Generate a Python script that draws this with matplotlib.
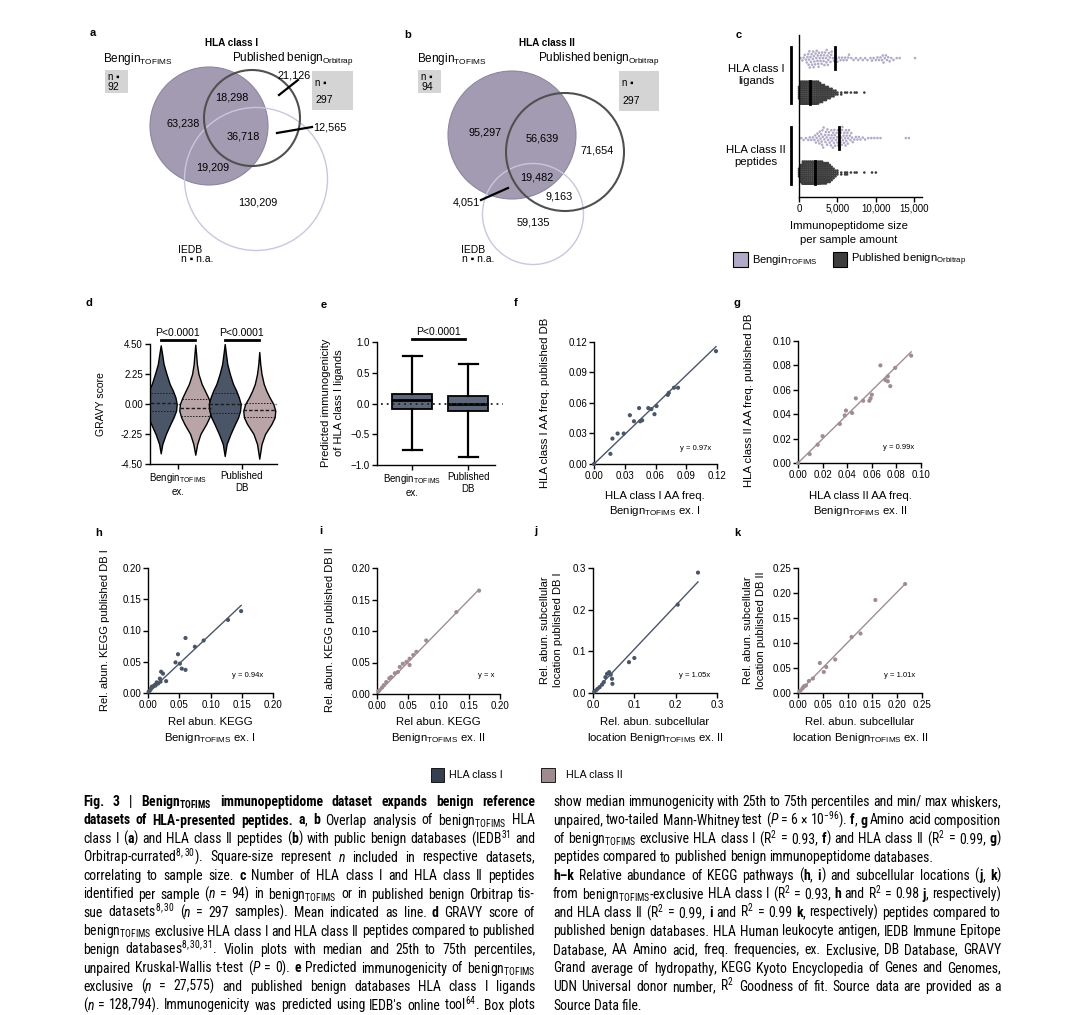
import numpy as np
import matplotlib
matplotlib.use('Agg')
import matplotlib.pyplot as plt
from matplotlib.patches import Circle, Rectangle
from matplotlib.transforms import blended_transform_factory
from matplotlib import font_manager

plt.rcParams['font.family'] = ['Liberation Sans', 'DejaVu Sans']
plt.rcParams['mathtext.fontset'] = 'custom'
plt.rcParams['mathtext.rm'] = 'Liberation Sans'
plt.rcParams['mathtext.it'] = 'Liberation Sans:italic'
plt.rcParams['mathtext.bf'] = 'Liberation Sans:bold'

SUB = r'$_{\mathregular{TOFIMS}}$'
ORB = r'$_{\mathregular{Orbitrap}}$'

########################################
# Data
########################################

# a, b - Venn counts (Bengin only, Bengin&Pub, all three, Bengin&IEDB, IEDB only, Pub only, Pub&IEDB)
venn_a_counts = [63238, 18298, 36718, 19209, 130209, 21126, 12565]
venn_b_counts = [95297, 56639, 19482, 4051, 59135, 71654, 9163]
n_bengin = [92, 94]
n_published = 297

# c - immunopeptidome size per sample
c_bengin_I = [200, 450, 600, 750, 900, 1000, 1100, 1200, 1250, 1300, 1350, 1400, 1500, 1550,
              1650, 1700, 1800, 1850, 1900, 1950, 2000, 2100, 2150, 2250, 2300, 2400, 2450,
              2500, 2550, 2600, 2700, 2800, 2850, 2950, 3000, 3100, 3200, 3250, 3300, 3400,
              3500, 3550, 3600, 3700, 3750, 3800, 3900, 4000, 4100, 4200, 4250, 4400, 4550,
              4700, 4850, 5000, 5200, 5400, 5600, 5800, 6000, 6200, 6400, 6500, 6800, 7100,
              7400, 7700, 8000, 8300, 8600, 8900, 9300, 9500, 9700, 10000, 10200, 10400,
              10600, 10800, 10900, 11000, 11150, 11300, 11450, 11600, 11800, 12000, 12300,
              12700, 13100, 15100]
c_bengin_II = [300, 600, 900, 1200, 1400, 1600, 1800, 2000, 2100, 2200, 2300, 2400, 2500,
               2600, 2700, 2800, 2900, 3000, 3050, 3100, 3200, 3300, 3400, 3450, 3500, 3600,
               3700, 3800, 3850, 3900, 4000, 4100, 4200, 4250, 4300, 4400, 4500, 4600, 4650,
               4700, 4800, 4900, 5000, 5050, 5100, 5200, 5300, 5400, 5450, 5500, 5600, 5700,
               5800, 5850, 5900, 6000, 6100, 6200, 6300, 6400, 6500, 6600, 6700, 6800, 6900,
               7000, 7200, 7400, 7600, 7800, 8000, 8300, 8600, 9000, 9400, 9800, 10200,
               10600, 13900, 14300, 3150, 3650, 4450, 4950, 5250, 5650, 6050, 6350, 2650,
               2950, 4150, 4550, 5550, 6150]
c_pub_bins = [0, 250, 500, 750, 1000, 1250, 1500, 1750, 2000, 2250, 2500, 2750, 3000, 3250,
              3500, 3750, 4000, 4250, 4500, 4750, 5000, 5500, 6000, 6250, 6750, 7250, 7500,
              8500, 9500, 10000]
c_pub_I_counts = [7, 14, 24, 29, 30, 29, 26, 20, 17, 15, 13, 11, 10, 9,
                  8, 7, 6, 5, 4, 3, 2, 2, 1, 1, 1, 1, 1, 1, 0, 0]
c_pub_II_counts = [5, 10, 17, 20, 22, 22, 22, 22, 21, 16, 15, 14, 13, 12,
                   12, 11, 10, 8, 6, 4, 3, 2, 2, 2, 1, 1, 1, 1, 1, 1]
c_means = [4650, 1420, 5200, 2050]
c_ticks = [0, 5000, 10000, 15000]
c_ticklabels = ['0', '5,000', '10,000', '15,000']

# d - GRAVY score violins (profile height -> half width)
d_dark1_y = [-3.7, -3.0, -2.25, -1.5, -1.0, -0.5, 0.0, 0.5, 1.0, 1.5, 2.25, 3.0, 3.8, 4.4]
d_dark1_w = [0.0, 0.025, 0.08, 0.15, 0.2, 0.24, 0.25, 0.23, 0.19, 0.14, 0.09, 0.045, 0.02, 0.0]
d_pink1_y = [-3.8, -3.0, -2.25, -1.5, -1.0, -0.5, 0.0, 0.5, 1.0, 1.5, 2.25, 3.0, 3.8, 4.45]
d_pink1_w = [0.0, 0.03, 0.08, 0.17, 0.22, 0.25, 0.24, 0.2, 0.15, 0.1, 0.05, 0.025, 0.012, 0.0]
d_dark2_y = [-3.9, -3.0, -2.25, -1.5, -1.0, -0.5, 0.0, 0.5, 1.0, 1.5, 2.25, 3.0, 3.8, 4.5]
d_dark2_w = [0.0, 0.03, 0.09, 0.16, 0.21, 0.24, 0.25, 0.22, 0.18, 0.13, 0.08, 0.04, 0.018, 0.0]
d_pink2_y = [-4.1, -3.0, -2.25, -1.5, -1.0, -0.5, 0.0, 0.5, 1.0, 1.5, 2.25, 3.0, 3.9]
d_pink2_w = [0.0, 0.035, 0.09, 0.19, 0.24, 0.25, 0.22, 0.16, 0.11, 0.07, 0.035, 0.015, 0.0]
d_quartiles = [(-0.55, 0.1, 0.85), (-0.9, -0.3, 0.35), (-0.7, 0.0, 0.8), (-1.0, -0.45, 0.1)]
d_ticks = [-4.5, -2.25, 0, 2.25, 4.5]
d_ticklabels = ['-4.50', '-2.25', '0.00', '2.25', '4.50']

# e - predicted immunogenicity box stats
e_stats = [dict(med=0.05, q1=-0.09, q3=0.15, whislo=-0.75, whishi=0.78, fliers=[]),
           dict(med=0.0, q1=-0.12, q3=0.13, whislo=-0.87, whishi=0.64, fliers=[])]

# f - HLA class I AA freq
f_x = [0.0, 0.016, 0.018, 0.023, 0.029, 0.035, 0.039, 0.044, 0.045, 0.047, 0.053, 0.056,
       0.059, 0.061, 0.072, 0.073, 0.078, 0.082, 0.119]
f_y = [0.0, 0.010, 0.025, 0.030, 0.030, 0.048, 0.042, 0.055, 0.042, 0.043, 0.055, 0.054,
       0.049, 0.057, 0.068, 0.070, 0.075, 0.075, 0.111]
f_slope = 0.97

# g - HLA class II AA freq
g_x = [0.0, 0.0095, 0.016, 0.020, 0.034, 0.038, 0.039, 0.044, 0.047, 0.053, 0.058, 0.059,
       0.060, 0.067, 0.071, 0.073, 0.073, 0.075, 0.079, 0.092]
g_y = [0.0, 0.0073, 0.015, 0.022, 0.032, 0.039, 0.043, 0.041, 0.053, 0.051, 0.051, 0.053,
       0.056, 0.080, 0.068, 0.071, 0.067, 0.063, 0.078, 0.088]
g_slope = 0.99

# h - KEGG class I
h_x = [0.128, 0.149, 0.089, 0.075, 0.060, 0.048, 0.044, 0.051, 0.054, 0.060, 0.021, 0.024,
       0.029, 0.019, 0.020, 0.016, 0.012, 0.009, 0.007, 0.005, 0.003, 0.001, 0.014, 0.011,
       0.006]
h_y = [0.117, 0.131, 0.084, 0.074, 0.088, 0.062, 0.049, 0.047, 0.039, 0.037, 0.034, 0.031,
       0.019, 0.023, 0.018, 0.015, 0.012, 0.011, 0.010, 0.007, 0.004, 0.002, 0.017, 0.013,
       0.010]
h_slope = 0.94

# i - KEGG class II
i_x = [0.166, 0.129, 0.080, 0.064, 0.059, 0.053, 0.048, 0.042, 0.053, 0.037, 0.034, 0.029,
       0.023, 0.020, 0.015, 0.011, 0.008, 0.004, 0.002]
i_y = [0.164, 0.130, 0.085, 0.067, 0.062, 0.046, 0.051, 0.048, 0.056, 0.043, 0.035, 0.033,
       0.027, 0.025, 0.019, 0.014, 0.010, 0.006, 0.004]
i_slope = 1.0

# j - subcellular class I
j_x = [0.254, 0.205, 0.100, 0.087, 0.039, 0.043, 0.046, 0.047, 0.030, 0.026, 0.022, 0.016,
       0.011, 0.007, 0.003, 0.034]
j_y = [0.289, 0.212, 0.084, 0.074, 0.050, 0.044, 0.034, 0.022, 0.038, 0.026, 0.020, 0.014,
       0.010, 0.006, 0.003, 0.046]
j_slope = 1.05

# k - subcellular class II
k_x = [0.216, 0.156, 0.126, 0.108, 0.075, 0.057, 0.052, 0.044, 0.030, 0.022, 0.016, 0.011,
       0.009, 0.005, 0.003, 0.013]
k_y = [0.218, 0.186, 0.119, 0.112, 0.067, 0.052, 0.042, 0.060, 0.029, 0.024, 0.015, 0.012,
       0.009, 0.005, 0.003, 0.014]
k_slope = 1.01

# colours
C_I = '#4b5568'
C_II = '#a08d93'
C_I_LEG = '#363f50'
C_II_LEG = '#9f8a8f'
C_BENGIN = '#a29bb2'
C_BENGIN_PT = '#b2abc8'
C_PUB = '#3d3d3d'

########################################
# Figure + helpers
########################################
W, H = 1077, 1015
fig = plt.figure(figsize=(W / 100, H / 100), dpi=100)

cv = fig.add_axes([0, 0, 1, 1])
cv.set_xlim(0, W)
cv.set_ylim(H, 0)
cv.axis('off')


def px_axes(x0, y0, x1, y1):
    return fig.add_axes([x0 / W, 1 - y1 / H, (x1 - x0) / W, (y1 - y0) / H])


def style(ax):
    for s in ['top', 'right']:
        ax.spines[s].set_visible(False)
    for s in ['left', 'bottom']:
        ax.spines[s].set_linewidth(1.0)
    ax.tick_params(direction='out', length=3.5, width=1.0, labelsize=7, pad=1.5)
    ax.patch.set_visible(False)


def letter(x, y, s):
    cv.text(x, y, s, fontsize=8, fontweight='bold', ha='left', va='center')


def beeswarm(xpx, d, maxoff):
    xpx = np.asarray(xpx, float)
    ys = np.zeros(len(xpx))
    placed = []
    for i in np.argsort(xpx, kind='stable'):
        x = xpx[i]
        near = [(px, py) for px, py in placed if abs(px - x) < d]
        cands = [0.0]
        for px, py in near:
            dy = np.sqrt(d * d - (px - x) ** 2)
            cands += [py + dy, py - dy]
        cands.sort(key=abs)
        best = cands[-1]
        for c in cands:
            if all((px - x) ** 2 + (py - c) ** 2 >= d * d - 1e-6 for px, py in near):
                best = c
                break
        best = max(-maxoff, min(maxoff, best))
        ys[i] = best
        placed.append((x, best))
    return ys


########################################
# a, b - Venn diagrams
########################################
def venn(title, tx, lab_b, lab_p, circles, counts, pos, box_b, box_p, nb, pointers):
    cb, cp, ci = circles
    cv.add_patch(Circle(cb[:2], cb[2], facecolor=C_BENGIN, edgecolor='#8d86a0', lw=0.8, zorder=1))
    cv.add_patch(Circle(ci[:2], ci[2], facecolor='none', edgecolor='#c9c7de', lw=1.0, zorder=2))
    cv.add_patch(Circle(cp[:2], cp[2], facecolor='none', edgecolor='#505050', lw=1.5, zorder=3))
    cv.text(tx, 43, title, fontsize=7.2, fontweight='bold', ha='center', va='center')
    cv.text(lab_b[0], lab_b[1], 'Bengin' + SUB, fontsize=8.5, ha='left', va='center')
    cv.text(lab_p[0], lab_p[1], 'Published benign' + ORB, fontsize=8.5, ha='left', va='center')
    for (x0, y0, x1, y1), n in [(box_b, nb), (box_p, n_published)]:
        cv.add_patch(Rectangle((x0, y0), x1 - x0, y1 - y0, facecolor='#d4d4d4', edgecolor='none', zorder=1))
        cv.text(x0 + 3, y0 + (y1 - y0) * 0.3, 'n \u25aa', fontsize=7, ha='left', va='center', zorder=4)
        cv.text(x0 + 3, y0 + (y1 - y0) * 0.74, str(n), fontsize=7.5, ha='left', va='center', zorder=4)
    for v, (x, y) in zip(counts, pos):
        cv.text(x, y, f'{v:,}', fontsize=7.8, ha='center', va='center', zorder=5)
    for (x0, y0), (x1, y1) in pointers:
        cv.plot([x0, x1], [y0, y1], color='k', lw=1.6, zorder=5)


letter(90, 33, 'a')
venn('HLA class I', 232, (103, 59), (232, 58),
     [(209, 126, 59), (252, 118, 48), (256, 179, 71.5)],
     venn_a_counts,
     [(183, 123), (232, 97), (243, 136), (213, 167), (258, 202), (294, 75), (330, 127)],
     (105, 70, 128, 93), (312, 71, 353, 110), n_bengin[0],
     [((298, 80), (279, 95)), ((312, 127), (277, 133))])
cv.text(190, 250, 'IEDB', fontsize=7.5, ha='center', va='center')
cv.text(197, 259, 'n \u25aa n.a.', fontsize=7.5, ha='center', va='center')

letter(404, 35, 'b')
venn('HLA class II', 547, (417, 59), (538, 58),
     [(512, 135, 64), (565, 152, 59), (533, 214, 50.5)],
     venn_b_counts,
     [(485, 132), (542, 138), (537, 177), (466, 202), (533, 222), (597, 150), (559, 196)],
     (418, 70, 441, 93), (619, 71, 659, 111), n_bengin[1],
     [((481, 200), (508, 188))])
cv.text(473, 250, 'IEDB', fontsize=7.5, ha='center', va='center')
cv.text(478, 259, 'n \u25aa n.a.', fontsize=7.5, ha='center', va='center')

########################################
# c - immunopeptidome size
########################################
letter(736, 35, 'c')
axc = px_axes(799, 35, 922, 197)
style(axc)
axc.set_xlim(0, 16000)
axc.set_ylim(4.03, -0.67)
axc.set_yticks([])
axc.set_xticks(c_ticks)
axc.set_xticklabels(c_ticklabels)
axc.tick_params(axis='x', labelsize=7)
rows = [0, 1, 2.32, 3.32]
px_per_x = 123 / 16000
px_per_y = 162 / 4.7
c_pub_I = np.repeat(c_pub_bins, c_pub_I_counts)
c_pub_II = np.repeat(c_pub_bins, c_pub_II_counts)
series = [(c_bengin_I, C_BENGIN_PT, 3.0, 12), (c_pub_I, C_PUB, 1.9, 11),
          (c_bengin_II, C_BENGIN_PT, 3.0, 12), (c_pub_II, C_PUB, 1.9, 11)]
for row, (vals, col, d, mo), m in zip(rows, series, c_means):
    vals = np.asarray(vals, float)
    off = beeswarm(vals * px_per_x, d, mo) / px_per_y
    axc.scatter(vals, row + off, s=3.5, color=col, edgecolors='none', zorder=2, clip_on=False)
    axc.plot([m, m], [row - 0.33, row + 0.33], color='k', lw=2, zorder=3)
tr = blended_transform_factory(axc.transAxes, axc.transData)
for y0, y1 in [(-0.32, 1.30), (2.0, 3.65)]:
    axc.plot([-0.065, -0.065], [y0, y1], color='k', lw=2, transform=tr, clip_on=False)
cv.text(756, 75, 'HLA class I\nligands', fontsize=8.2, ha='center', va='center', linespacing=1.3)
cv.text(756, 156, 'HLA class II\npeptides', fontsize=8.2, ha='center', va='center', linespacing=1.3)
cv.text(849, 226, 'Immunopeptidome size', fontsize=8.2, ha='center', va='center')
cv.text(849, 240, 'per sample amount', fontsize=8.2, ha='center', va='center')
cv.add_patch(Rectangle((733, 252), 15, 15, facecolor=C_BENGIN_PT, edgecolor='k', lw=0.8))
cv.text(752, 260, 'Bengin' + SUB, fontsize=8, ha='left', va='center')
cv.add_patch(Rectangle((833, 252), 14, 15, facecolor=C_PUB, edgecolor='k', lw=0.8))
cv.text(851, 260, 'Published benign' + ORB, fontsize=8, ha='left', va='center')

########################################
# d - GRAVY violins
########################################
letter(86, 303, 'd')
axd = px_axes(150, 344, 277, 464)
style(axd)
axd.set_xlim(0.5625, 2.547)
axd.set_ylim(-4.5, 4.5)
axd.set_yticks(d_ticks)
axd.set_yticklabels(d_ticklabels)
axd.set_xticks([1, 2])
axd.set_xticklabels(['Bengin' + SUB + '\nex.', 'Published\nDB'], fontsize=7, linespacing=1.2)
axd.axhline(0, color='#555555', lw=0.9, ls=(0, (1, 1.5)), zorder=0)
violins = [(0.73, d_dark1_y, d_dark1_w, C_I), (1.27, d_pink1_y, d_pink1_w, '#b9a4a8'),
           (1.73, d_dark2_y, d_dark2_w, C_I), (2.27, d_pink2_y, d_pink2_w, '#b9a4a8')]
for (xc, vy, vw, col), qs in zip(violins, d_quartiles):
    vw = np.asarray(vw)
    axd.fill_betweenx(vy, xc - vw, xc + vw, facecolor=col, edgecolor='k', lw=1.0, zorder=2)
    for k, q in enumerate(qs):
        hw = np.interp(q, vy, vw)
        axd.plot([xc - hw, xc + hw], [q, q], color='#1a1a1a', lw=1.0 if k == 1 else 0.7,
                 ls=(0, (2.5, 1.5)) if k == 1 else (0, (1.5, 1.5)), zorder=3)
for xa, xb in [(0.73, 1.27), (1.73, 2.27)]:
    axd.plot([xa, xb], [4.8, 4.8], color='k', lw=2, clip_on=False)
    axd.text((xa + xb) / 2, 5.35, 'P<0.0001', fontsize=7.5, ha='center', va='center')
cv.text(101, 404, 'GRAVY score', fontsize=7.5, rotation=90, ha='center', va='center')

########################################
# e - predicted immunogenicity box plots
########################################
letter(321, 305, 'e')
axe = px_axes(377, 342, 495, 465)
style(axe)
axe.bxp(e_stats, positions=[1, 2], widths=0.7, patch_artist=True, showfliers=False,
        capwidths=0.34, manage_ticks=False,
        boxprops=dict(facecolor='#5e6779', edgecolor='k', lw=1.3),
        whiskerprops=dict(color='k', lw=1.6), capprops=dict(color='k', lw=1.6),
        medianprops=dict(color='k', lw=2))
axe.set_xlim(0.375, 2.48)
axe.set_ylim(-1.0, 1.0)
axe.set_yticks([-1.0, -0.5, 0.0, 0.5, 1.0])
axe.set_xticks([1, 2])
axe.set_xticklabels(['Bengin' + SUB + '\nex.', 'Published\nDB'], fontsize=7, linespacing=1.2)
axe.plot([0.45, 2.62], [0, 0], color='#222222', lw=1.3, ls=(0, (1, 2.2)), zorder=4, clip_on=False)
axe.plot([1, 1.95], [1.05, 1.05], color='k', lw=2, clip_on=False)
axe.text(1.47, 1.16, 'P<0.0001', fontsize=7.5, ha='center', va='center')
cv.text(326, 403, 'Predicted immunogenicity', fontsize=8, rotation=90, ha='center', va='center')
cv.text(339, 403, 'of HLA class I ligands', fontsize=8, rotation=90, ha='center', va='center')

########################################
# f - k scatter panels
########################################
def scatter_panel(rect, xs, ys, slope, col, lim, ticks, ticklabels, eq, eq_pos):
    ax = px_axes(*rect)
    style(ax)
    ax.scatter(xs, ys, s=9, color=col, edgecolors='none', zorder=3, clip_on=False)
    xe = max(xs)
    ax.plot([0, xe], [0, slope * xe], color=col, lw=1.0, zorder=2)
    ax.set_xlim(0, lim)
    ax.set_ylim(0, lim)
    ax.set_xticks(ticks)
    ax.set_xticklabels(ticklabels)
    ax.set_yticks(ticks)
    ax.set_yticklabels(ticklabels)
    ax.text(eq_pos[0], eq_pos[1], eq, fontsize=5.5, transform=ax.transAxes, ha='center', va='center')
    return ax


t12 = [0, 0.03, 0.06, 0.09, 0.12]
letter(514, 303, 'f')
scatter_panel((594, 342, 717, 464), f_x, f_y, f_slope, C_I, 0.12, t12,
              ['0.00', '0.03', '0.06', '0.09', '0.12'], 'y = 0.97x', (0.83, 0.13))
cv.text(545, 403, 'HLA class I AA freq. published DB', fontsize=8.2, rotation=90, ha='center', va='center')
cv.text(655, 496, 'HLA class I AA freq.', fontsize=8.2, ha='center', va='center')
cv.text(655, 511, 'Benign' + SUB + ' ex. I', fontsize=8.2, ha='center', va='center')

t10 = [0, 0.02, 0.04, 0.06, 0.08, 0.10]
letter(733, 303, 'g')
scatter_panel((798, 341, 921, 463), g_x, g_y, g_slope, C_II, 0.10, t10,
              ['0.00', '0.02', '0.04', '0.06', '0.08', '0.10'], 'y = 0.99x', (0.82, 0.13))
cv.text(749, 400, 'HLA class II AA freq. published DB', fontsize=8.2, rotation=90, ha='center', va='center')
cv.text(860, 496, 'HLA class II AA freq.', fontsize=8.2, ha='center', va='center')
cv.text(860, 511, 'Benign' + SUB + ' ex. II', fontsize=8.2, ha='center', va='center')

t20 = [0, 0.05, 0.10, 0.15, 0.20]
l20 = ['0.00', '0.05', '0.10', '0.15', '0.20']
letter(95, 533, 'h')
scatter_panel((148, 568, 273, 693), h_x, h_y, h_slope, C_I, 0.20, t20, l20, 'y = 0.94x', (0.8, 0.14))
cv.text(105, 630, 'Rel. abun. KEGG published DB I', fontsize=8, rotation=90, ha='center', va='center')
cv.text(210, 722, 'Rel abun. KEGG', fontsize=8.2, ha='center', va='center')
cv.text(210, 738, 'Benign' + SUB + ' ex. I', fontsize=8.2, ha='center', va='center')

letter(319, 531, 'i')
scatter_panel((377, 568, 500, 694), i_x, i_y, i_slope, C_II, 0.20, t20, l20, 'y = x', (0.89, 0.15))
cv.text(330, 630, 'Rel. abun. KEGG published DB II', fontsize=8, rotation=90, ha='center', va='center')
cv.text(438, 722, 'Rel abun. KEGG', fontsize=8.2, ha='center', va='center')
cv.text(438, 738, 'Benign' + SUB + ' ex. II', fontsize=8.2, ha='center', va='center')

letter(534, 531, 'j')
scatter_panel((593, 568, 717, 693), j_x, j_y, j_slope, C_I, 0.3, [0, 0.1, 0.2, 0.3],
              ['0.0', '0.1', '0.2', '0.3'], 'y = 1.05x', (0.82, 0.14))
cv.text(545, 630, 'Rel. abun. subcellular', fontsize=8, rotation=90, ha='center', va='center')
cv.text(558, 630, 'location published DB I', fontsize=8, rotation=90, ha='center', va='center')
cv.text(655, 722, 'Rel. abun. subcellular', fontsize=8.2, ha='center', va='center')
cv.text(655, 738, 'location Benign' + SUB + ' ex. II', fontsize=8.2, ha='center', va='center')

letter(734, 533, 'k')
scatter_panel((798, 568, 922, 693), k_x, k_y, k_slope, C_II, 0.25, [0, 0.05, 0.10, 0.15, 0.20, 0.25],
              ['0.00', '0.05', '0.10', '0.15', '0.20', '0.25'], 'y = 1.01x', (0.82, 0.14))
cv.text(748, 630, 'Rel. abun. subcellular', fontsize=8, rotation=90, ha='center', va='center')
cv.text(761, 630, 'location published DB II', fontsize=8, rotation=90, ha='center', va='center')
cv.text(860, 722, 'Rel. abun. subcellular', fontsize=8.2, ha='center', va='center')
cv.text(860, 738, 'location Benign' + SUB + ' ex. II', fontsize=8.2, ha='center', va='center')

# shared legend
cv.add_patch(Rectangle((431, 768), 13, 14, facecolor=C_I_LEG, edgecolor='k', lw=0.6))
cv.text(449, 775, 'HLA class I', fontsize=7.7, ha='left', va='center')
cv.add_patch(Rectangle((541, 768), 14, 14, facecolor=C_II_LEG, edgecolor='k', lw=0.6))
cv.text(566, 775, 'HLA class II', fontsize=7.7, ha='left', va='center')

########################################
# Caption
########################################
avail = {f.name for f in font_manager.fontManager.ttflist}
cap_font = next(f for f in ['Liberation Sans Narrow', 'Roboto Condensed', 'Liberation Sans'] if f in avail)
cap_size = 9.9 if ('Narrow' in cap_font or 'Condensed' in cap_font) else 7.6
renderer = fig.canvas.get_renderer()


def cap_text(s, st):
    return cv.text(0, 0, s, fontsize=cap_size, family=[cap_font, 'DejaVu Sans'],
                   fontweight='bold' if st == 'b' else 'normal',
                   fontstyle='italic' if st == 'i' else 'normal', ha='left', va='baseline')


t1, t2 = cap_text('a a', 'n'), cap_text('aa', 'n')
space_w = t1.get_window_extent(renderer).width - t2.get_window_extent(renderer).width
t1.remove()
t2.remove()


def rich_line(x0, x1, y, parts, justify=True):
    tokens = []
    pending = False
    for text, st in parts:
        for i, c in enumerate(text.split(' ')):
            if i > 0:
                pending = True
            if not c:
                continue
            tokens.append((cap_text(c, st), pending))
            pending = False
    widths = [t.get_window_extent(renderer).width for t, _ in tokens]
    nsp = sum(sp for _, sp in tokens)
    gap = space_w
    if justify and nsp:
        gap = max(0.5 * space_w, (x1 - x0 - sum(widths)) / nsp)
    x = x0
    for (t, sp), w in zip(tokens, widths):
        if sp:
            x += gap
        t.set_position((x, y))
        x += w


left_lines = [
    [('Fig. 3 | Benign' + SUB + ' immunopeptidome dataset expands benign reference', 'b')],
    [('datasets of HLA-presented peptides.', 'b'), (' ', 'n'), ('a', 'b'), (', ', 'n'), ('b', 'b'),
     (' Overlap analysis of benign' + SUB + ' HLA', 'n')],
    [('class I (', 'n'), ('a', 'b'), (') and HLA class II peptides (', 'n'), ('b', 'b'),
     (r') with public benign databases (IEDB$^{\mathregular{31}}$ and', 'n')],
    [(r'Orbitrap-currated$^{\mathregular{8,30}}$). Square-size represent ', 'n'), ('n', 'i'),
     (' included in respective datasets,', 'n')],
    [('correlating to sample size. ', 'n'), ('c', 'b'), (' Number of HLA class I and HLA class II peptides', 'n')],
    [('identified per sample (', 'n'), ('n', 'i'),
     (' = 94) in benign' + SUB + ' or in published benign Orbitrap tis-', 'n')],
    [(r'sue datasets$^{\mathregular{8,30}}$ (', 'n'), ('n', 'i'), (' = 297 samples). Mean indicated as line. ', 'n'),
     ('d', 'b'), (' GRAVY score of', 'n')],
    [('benign' + SUB + ' exclusive HLA class I and HLA class II peptides compared to published', 'n')],
    [(r'benign databases$^{\mathregular{8,30,31}}$. Violin plots with median and 25th to 75th percentiles,', 'n')],
    [('unpaired Kruskal-Wallis t-test (', 'n'), ('P', 'i'), (' = 0). ', 'n'), ('e', 'b'),
     (' Predicted immunogenicity of benign' + SUB, 'n')],
    [('exclusive (', 'n'), ('n', 'i'), (' = 27,575) and published benign databases HLA class I ligands', 'n')],
    [('(', 'n'), ('n', 'i'),
     (r" = 128,794). Immunogenicity was predicted using IEDB's online tool$^{\mathregular{64}}$. Box plots", 'n')],
]
right_lines = [
    [('show median immunogenicity with 25th to 75th percentiles and min/ max whiskers,', 'n')],
    [('unpaired, two-tailed Mann-Whitney test (', 'n'), ('P', 'i'),
     (' = 6 \u00d7 10' + r'$^{\mathregular{-96}}$). ', 'n'), ('f', 'b'), (', ', 'n'),
     ('g', 'b'), (' Amino acid composition', 'n')],
    [('of benign' + SUB + r' exclusive HLA class I (R$^{\mathregular{2}}$ = 0.93, ', 'n'), ('f', 'b'),
     (r') and HLA class II (R$^{\mathregular{2}}$ = 0.99, ', 'n'), ('g', 'b'), (')', 'n')],
    [('peptides compared to published benign immunopeptidome databases.', 'n')],
    [('h\u2013k', 'b'), (' Relative abundance of KEGG pathways (', 'n'), ('h', 'b'), (', ', 'n'), ('i', 'b'),
     (') and subcellular locations (', 'n'), ('j', 'b'), (', ', 'n'), ('k', 'b'), (')', 'n')],
    [('from benign' + SUB + r'-exclusive HLA class I (R$^{\mathregular{2}}$ = 0.93, ', 'n'), ('h', 'b'),
     (r' and R$^{\mathregular{2}}$ = 0.98 ', 'n'), ('j', 'b'), (', respectively)', 'n')],
    [(r'and HLA class II (R$^{\mathregular{2}}$ = 0.99, ', 'n'), ('i', 'b'),
     (r' and R$^{\mathregular{2}}$ = 0.99 ', 'n'), ('k', 'b'), (', respectively) peptides compared to', 'n')],
    [('published benign databases. HLA Human leukocyte antigen, IEDB Immune Epitope', 'n')],
    [('Database, AA Amino acid, freq. frequencies, ex. Exclusive, DB Database, GRAVY', 'n')],
    [('Grand average of hydropathy, KEGG Kyoto Encyclopedia of Genes and Genomes,', 'n')],
    [(r'UDN Universal donor number, R$^{\mathregular{2}}$ Goodness of fit. Source data are provided as a', 'n')],
    [('Source Data file.', 'n')],
]
for k, parts in enumerate(left_lines):
    rich_line(83, 535, 806 + 18.5 * k, parts)
for k, parts in enumerate(right_lines):
    rich_line(553, 1001, 806 + 18.5 * k, parts, justify=k not in (3, 11))

fig.savefig('out.png', dpi=100)
